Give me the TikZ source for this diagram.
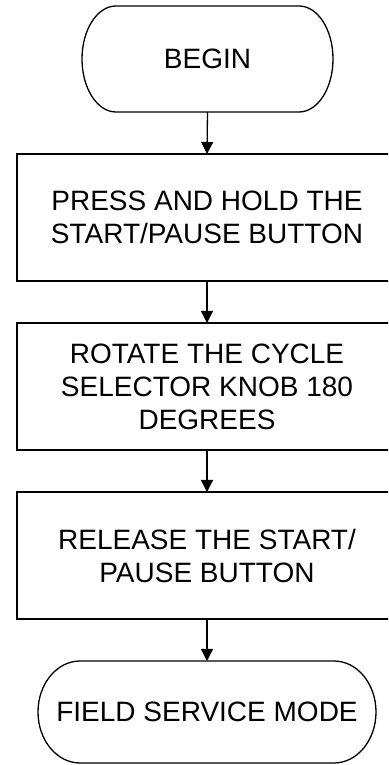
\documentclass[tikz,border=0pt]{standalone}
\usepackage{fontspec}
\setmainfont{Liberation Sans}
\usetikzlibrary{arrows.meta}
\tikzset{
  x=1pt, y=1pt,
  base/.style={line width=1.3pt, draw=black},
  procbox/.style={base, rectangle, outer sep=0pt, minimum width=380pt, minimum height=127pt,
    align=center, inner sep=0pt, font=\fontsize{28}{33}\selectfont},
  termbox/.style={rectangle, draw=none, outer sep=0pt, align=center, inner sep=0pt,
    font=\fontsize{28}{33}\selectfont},
  arr/.style={base, -{Triangle[width=12pt,length=12pt]}}
}
\newcommand{\terminalshape}[3]{% name, rx, half height
  \draw[base] ([xshift=#2pt]#1.north west) -- ([xshift=-#2pt]#1.north east)
    arc[start angle=90, end angle=-90, x radius=#2pt, y radius=#3pt]
    -- ([xshift=#2pt]#1.south west)
    arc[start angle=270, end angle=90, x radius=#2pt, y radius=#3pt] -- cycle;
}
\begin{document}
\begin{tikzpicture}
\useasboundingbox (0,0) rectangle (388,765);
\fill[white] (0,0) rectangle (388,765);
\clip (0,0) rectangle (388,765);
\node[termbox, minimum width=251pt, minimum height=106pt] (begin) at (207.5,706) {BEGIN};
\terminalshape{begin}{34}{53}
\node[procbox] (s1) at (207,547.5) {PRESS AND HOLD THE\\START/PAUSE BUTTON};
\node[procbox] (s2) at (207,378.5) {ROTATE THE CYCLE\\SELECTOR KNOB 180\\DEGREES};
\node[procbox] (s3) at (207,209.5) {RELEASE THE START/\\PAUSE BUTTON};
\node[termbox, minimum width=338pt, minimum height=102pt] (fin) at (207,53) {FIELD SERVICE MODE};
\terminalshape{fin}{42}{51}
\draw[arr] (begin.south) -- (s1.north);
\draw[arr] (s1.south) -- (s2.north);
\draw[arr] (s2.south) -- (s3.north);
\draw[arr] (s3.south) -- (fin.north);
\end{tikzpicture}
\end{document}
